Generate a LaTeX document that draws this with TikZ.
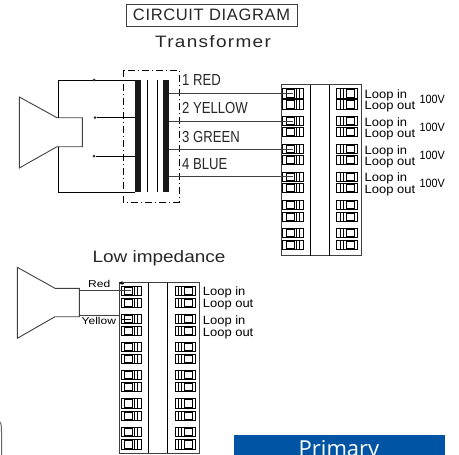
\documentclass[tikz,border=0pt]{standalone}
\usepackage{fontspec}
\usepackage{xcolor}
\usepackage{tikz}
\usetikzlibrary{arrows,positioning}
\setmainfont{Open Sans}
\newfontfamily\cadcaps[LetterSpace=4]{Liberation Sans}
\newfontfamily\cadwide[FakeStretch=1.15]{Liberation Sans}
\newfontfamily\cadspaced[FakeStretch=1.15,LetterSpace=8]{Liberation Sans}
\newfontfamily\cadnarrow[FakeStretch=0.82]{Liberation Sans}
\newfontfamily\cadsmall[FakeStretch=1.2]{Liberation Sans}
\newfontfamily\cadloop[FakeStretch=1.08]{Liberation Sans}
\newfontfamily\cadvolt[FakeStretch=0.9]{Liberation Sans}
\definecolor{bannerblue}{RGB}{0,84,164}
\tikzset{
  wire/.style={draw=black!75,line width=0.9pt},
  thin wire/.style={draw=black,line width=0.7pt},
  cadlabel/.style={inner sep=0pt,anchor=west,text=black!85,font=\cadnarrow\fontsize{16}{16}\selectfont},
  cadtitle/.style={inner sep=0pt,text=black!85,font=\cadwide\fontsize{16.5}{16.5}\selectfont},
  cadsmalllabel/.style={inner sep=0pt,anchor=west,font=\cadsmall\fontsize{10}{10}\selectfont},
  loop label/.style={inner sep=0pt,anchor=west,text height=8.6pt,text depth=1pt,font=\cadloop\fontsize{12}{12}\selectfont},
  volt label/.style={inner sep=0pt,anchor=west,font=\cadvolt\fontsize{12}{12}\selectfont},
  term/.style={draw=black,line width=0.7pt,inner sep=0pt,minimum width=20.6pt,minimum height=9.3pt},
  block/.style={draw=black!75,line width=0.9pt,inner sep=0pt,minimum width=80pt,minimum height=171pt},
  dot/.style={circle,fill=black!80,inner sep=0pt,minimum size=3pt},
  core/.style={fill=black!90,inner sep=0pt,minimum width=6pt,minimum height=112pt}
}
% one row of a block: left and right terminal, #2 is the block's left edge
\newcommand{\termrow}[3]{%
  \node[term] (#1l) at (#2+12,#3) {};
  \draw[thin wire] (#2+15,#3-4.65) -- (#2+15,#3+4.65) (#2+18,#3-4.65) -- (#2+18,#3+4.65);
  \draw[thin wire] (#2+5,#3-3.7) rectangle (#2+13,#3+3.7);
  \node[term] (#1r) at (#2+66,#3) {};
  \draw[thin wire] (#2+59,#3-4.65) -- (#2+59,#3+4.65) (#2+62,#3-4.65) -- (#2+62,#3+4.65);
  \draw[thin wire] (#2+65,#3-3.7) rectangle (#2+73,#3+3.7);
}
\begin{document}
\begin{tikzpicture}[x=1pt,y=-1pt]
\useasboundingbox (0,0) rectangle (459,455);

% titles
\node[cadtitle,font=\cadcaps\fontsize{16.5}{16.5}\selectfont,draw=black!75,minimum width=171pt,minimum height=22pt] (title) at (211.5,15) {CIRCUIT DIAGRAM};
\node[cadtitle,font=\cadspaced\fontsize{16.5}{16.5}\selectfont] (trafotitle) at (213,41.5) {Transformer};
\node[cadtitle] (lowtitle) at (159,258) {Low impedance};

% speaker with transformer
\draw[wire] (19.3,97)--(57,117.7)--(82.3,117.7)--(82.3,146.7)--(57,146.7)--(19.3,168)--cycle;
\node[core] (coilp) at (138,136) {};
\node[core] (coils) at (166,136) {};
\coordinate (sp1) at (58,117.7);
\coordinate (sp2) at (58,146.7);
\coordinate (tap1) at (135,80);
\coordinate (tap4) at (135,192);
\draw[thin wire] (sp1)|-(tap1);
\draw[thin wire] (sp2)|-(tap4);
\node[dot] (d1) at (94,80) {};
\node[dot] (d2) at (95,117.7) {};
\node[dot] (d3) at (94,156) {};
\draw[thin wire] (d2)--(d2-|coilp.west);
\draw[thin wire] (d3)--(d3-|coilp.west);
\draw[thin wire] (147.5,80)--(147.5,192);
\draw[thin wire] (157,80)--(157,192);
\draw[thin wire,dash pattern=on 7pt off 3pt on 1pt off 3pt] (123,70) rectangle (179,202);

% wire labels
\node[cadlabel] (l1) at (182,80) {1 RED};
\node[cadlabel] (l2) at (182,108) {2 YELLOW};
\node[cadlabel] (l3) at (182,137) {3 GREEN};
\node[cadlabel] (l4) at (182,164) {4 BLUE};

% upper block
\node[block] (b1) at (321,170.3) {};
\draw[thin wire] (310.3,85)--(310.3,255.7);
\draw[thin wire] (329.7,85)--(329.7,255.7);
\termrow{a1}{281}{93.3}
\termrow{a2}{281}{104.3}
\termrow{a3}{281}{121}
\termrow{a4}{281}{132}
\termrow{a5}{281}{149}
\termrow{a6}{281}{160}
\termrow{a7}{281}{176.7}
\termrow{a8}{281}{187.7}
\termrow{a9}{281}{205}
\termrow{a10}{281}{216.7}
\termrow{a11}{281}{233}
\termrow{a12}{281}{245}
\coordinate (w1) at (coils.east|-a1l);
\coordinate (w2) at (coils.east|-a3l);
\coordinate (w3) at (coils.east|-a5l);
\coordinate (w4) at (coils.east|-a7l);
\draw[wire] (w1)--(a1l.center);
\draw[wire] (w2)--(a3l.center);
\draw[wire] (w3)--(a5l.center);
\draw[wire] (w4)--(a7l.center);

\node[loop label] (in1) at (364.5,94.5) {Loop in};
\node[loop label] (out1) at (364.5,106) {Loop out};
\node[loop label] (in2) at (364.5,122.5) {Loop in};
\node[loop label] (out2) at (364.5,134) {Loop out};
\node[loop label] (in3) at (364.5,150.5) {Loop in};
\node[loop label] (out3) at (364.5,162) {Loop out};
\node[loop label] (in4) at (364.5,178) {Loop in};
\node[loop label] (out4) at (364.5,189.5) {Loop out};
\node[volt label] (v1) at (419.5,99.5) {100V};
\node[volt label] (v2) at (419.5,127) {100V};
\node[volt label] (v3) at (419.5,155) {100V};
\node[volt label] (v4) at (419.5,183) {100V};

% low impedance speaker
\draw[wire] (17.3,267.3)--(55,288.3)--(79.3,288.3)--(79.3,316.7)--(55,316.7)--(17.3,338.3)--cycle;
\node[block] (b2) at (159.3,367.7) {};
\draw[thin wire] (148.3,282.7)--(148.3,452.7);
\draw[thin wire] (167.7,282.7)--(167.7,452.7);
\termrow{c1}{119.3}{290.7}
\termrow{c2}{119.3}{303}
\termrow{c3}{119.3}{319}
\termrow{c4}{119.3}{331}
\termrow{c5}{119.3}{346.7}
\termrow{c6}{119.3}{358.7}
\termrow{c7}{119.3}{375}
\termrow{c8}{119.3}{387}
\termrow{c9}{119.3}{403.3}
\termrow{c10}{119.3}{415.7}
\termrow{c11}{119.3}{432}
\termrow{c12}{119.3}{444.3}
\coordinate (red) at (79.3,290.7);
\coordinate (yellow) at (79.3,315);
\coordinate (tick) at (124,283);
\draw[wire] (red)--(c1l.center);
\draw[wire] (yellow)--(yellow-|b2.west);
\draw[thin wire,->,>=stealth] (tick)--(tick-|b2.west);
\draw[thin wire] (c3l.west)--(c3l.center);
\node[cadsmalllabel] (redl) at (88,284) {Red};
\node[cadsmalllabel] (yell) at (81.5,321) {Yellow};
\node[loop label] (in5) at (202.7,292) {Loop in};
\node[loop label] (out5) at (202.7,304) {Loop out};
\node[loop label] (in6) at (202.7,320.5) {Loop in};
\node[loop label] (out6) at (202.7,333) {Loop out};

% edge of something cut off at the left
\draw[draw=black!60,line width=1pt] (0,422) .. controls (1.5,424) and (1.5,428) .. (1.5,432)--(1.5,455);

% banner at the bottom
\node[fill=bannerblue,minimum width=211pt,minimum height=40pt,inner sep=0pt] (banner) at (339.5,455) {};
\node[text=white,inner sep=0pt,font=\fontsize{22}{22}\selectfont,anchor=base] (primary) at (339,456) {Primary};
\end{tikzpicture}
\end{document}
